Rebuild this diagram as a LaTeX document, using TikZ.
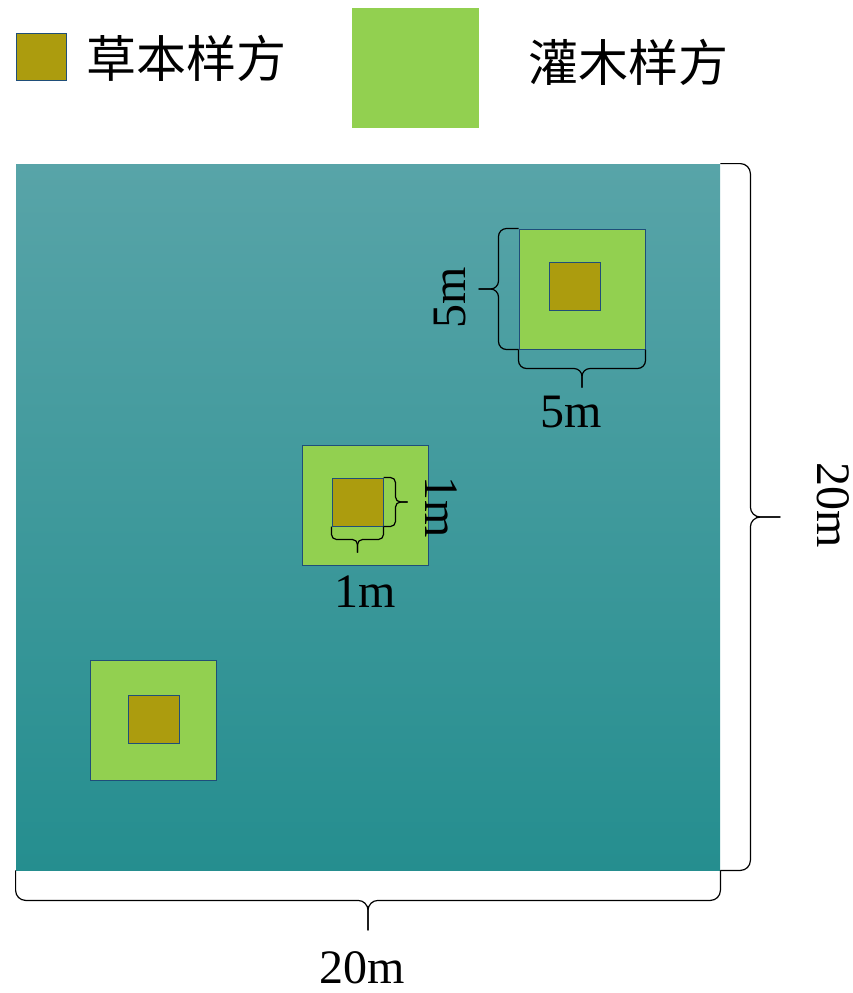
\documentclass[tikz,border=0pt]{standalone}
\usepackage{fontspec}
\setmainfont{Liberation Serif}
\newfontfamily\cjk{Noto Sans CJK SC}
\usetikzlibrary{positioning,calc}
\definecolor{herbcol}{RGB}{172,156,14}
\definecolor{shrubcol}{RGB}{146,208,80}
\definecolor{edgecol}{RGB}{31,78,121}
\definecolor{plottop}{RGB}{88,164,168}
\definecolor{plotbot}{RGB}{37,142,143}
\tikzset{
  shrub/.style={draw=edgecol, fill=shrubcol, minimum width=63pt, minimum height=60pt, inner sep=0pt, line width=0.5pt},
  herb/.style={draw=edgecol, fill=herbcol, minimum width=25.5pt, minimum height=24pt, inner sep=0pt, line width=0.5pt},
  bracestyle/.style={line width=0.6pt, rounded corners=#1},
  lbl/.style={font=\fontsize{24}{24}\selectfont, inner sep=0pt},
  cjklbl/.style={font=\cjk\fontsize{25}{25}\selectfont, inner sep=0pt, anchor=west}
}
% brace from #1 to #2, bar shifted by vector #3, corner radius #4
\newcommand{\sidebrace}[4]{%
  \draw[bracestyle=#4] (#1) -- ($(#1)+#3$) -- ($(#1)!.5!(#2)+#3$) -- ($(#1)!.5!(#2)+2*#3$);
  \draw[bracestyle=#4] (#2) -- ($(#2)+#3$) -- ($(#1)!.5!(#2)+#3$) -- ($(#1)!.5!(#2)+2*#3$);
}

\begin{document}
\begin{tikzpicture}[x=0.5pt,y=-0.5pt]
  \useasboundingbox (0,0) rectangle (853,993);
  % legend
  \node[herb, minimum width=25pt, minimum height=23.5pt] (lgherb) at (41,56.5) {};
  \node[cjklbl] (lgherbtxt) at (86,58) {草本样方};
  \node[fill=shrubcol, minimum width=63.5pt, minimum height=60pt, inner sep=0pt] (lgshrub) at (415.5,68) {};
  \node[cjklbl] (lgshrubtxt) at (528,62) {灌木样方};

  % the 20m x 20m plot
  \node[top color=plottop, bottom color=plotbot, minimum width=352pt, minimum height=353pt, inner sep=0pt] (plot) at (368,517) {};

  % quadrats
  \foreach \nm/\sx/\sy/\hx/\hy in {a/582/289/574.5/286, b/365/505/357.5/502, c/153/720/153.5/719.5}{
    \node[shrub] (s\nm) at (\sx,\sy) {};
    \node[herb] (h\nm) at (\hx,\hy) {};
  }

  % braces
  \sidebrace{plot.north east}{plot.south east}{(30,0)}{5pt}
  \sidebrace{plot.south west}{plot.south east}{(0,30)}{5pt}
  \sidebrace{sa.north west}{sa.south west}{(-20,0)}{4pt}
  \sidebrace{sa.south west}{sa.south east}{(0,19)}{4pt}
  \sidebrace{hb.north east}{hb.south east}{(12,0)}{2.5pt}
  \sidebrace{hb.south west}{hb.south east}{(0,13)}{2.5pt}

  % labels
  \node[lbl, rotate=-90] (plotw) at (833,505) {20m};
  \node[lbl] (plotl) at (362,968) {20m};
  \node[lbl, rotate=90] (sah) at (450,298) {5m};
  \node[lbl] (saw) at (571,412) {5m};
  \node[lbl, rotate=-90] (hbh) at (441,507) {1m};
  \node[lbl] (hbw) at (365,592) {1m};
\end{tikzpicture}
\end{document}
